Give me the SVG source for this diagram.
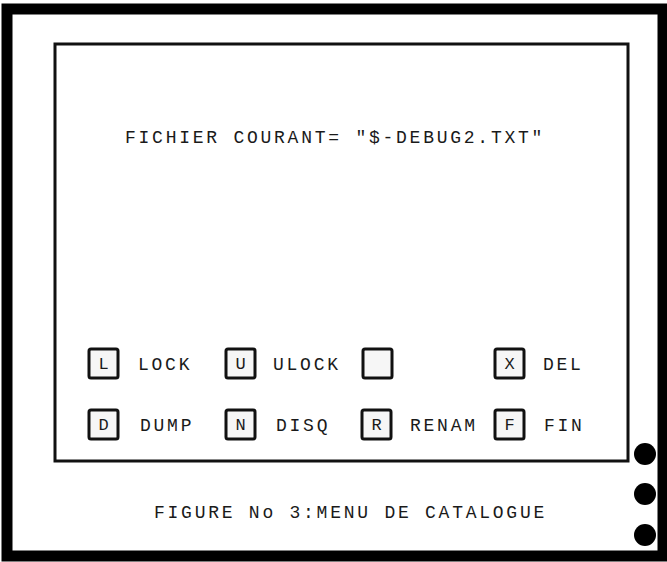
<svg xmlns="http://www.w3.org/2000/svg" width="667" height="562" viewBox="0 0 667 562">
<style>
.t{font-family:"Liberation Mono","DejaVu Sans Mono",monospace;font-size:18px;letter-spacing:2.75px;fill:#1a1a1a}
.k{fill:#f6f6f6;stroke:#111;stroke-width:3}
.kl{font-family:"Liberation Mono","DejaVu Sans Mono",monospace;font-size:17px;fill:#1a1a1a;text-anchor:middle}
</style>
<rect width="667" height="562" fill="#fff"/>
<g id="frame">
<rect x="7" y="9" width="656" height="547" fill="none" stroke="#000" stroke-width="11"/>
</g>
<g id="screen">
<rect x="55" y="44" width="573" height="417" fill="#fff" stroke="#111" stroke-width="3"/>
<text class="t" x="125" y="143">FICHIER COURANT= "$-DEBUG2.TXT"</text>
</g>
<g id="key-L"><rect class="k" x="89" y="349" width="29" height="29" rx="2"/><text class="kl" x="103.5" y="369">L</text><text class="t" x="138" y="370">LOCK</text></g>
<g id="key-U"><rect class="k" x="226" y="349" width="29" height="29" rx="2"/><text class="kl" x="240.5" y="369">U</text><text class="t" x="273" y="370">ULOCK</text></g>
<g id="key-empty"><rect class="k" x="363" y="349" width="29" height="29" rx="2"/></g>
<g id="key-X"><rect class="k" x="495" y="349" width="29" height="29" rx="2"/><text class="kl" x="509.5" y="369">X</text><text class="t" x="543" y="370">DEL</text></g>
<g id="key-D"><rect class="k" x="89" y="410" width="29" height="29" rx="2"/><text class="kl" x="103.5" y="430">D</text><text class="t" x="140" y="431">DUMP</text></g>
<g id="key-N"><rect class="k" x="226" y="410" width="29" height="29" rx="2"/><text class="kl" x="240.5" y="430">N</text><text class="t" x="276" y="431">DISQ</text></g>
<g id="key-R"><rect class="k" x="362" y="410" width="29" height="29" rx="2"/><text class="kl" x="376.5" y="430">R</text><text class="t" x="410" y="431">RENAM</text></g>
<g id="key-F"><rect class="k" x="495" y="410" width="29" height="29" rx="2"/><text class="kl" x="509.5" y="430">F</text><text class="t" x="544" y="431">FIN</text></g>
<g id="holes">
<circle cx="645" cy="454" r="11" fill="#000"/>
<circle cx="645" cy="494" r="11" fill="#000"/>
<circle cx="645" cy="535" r="11" fill="#000"/>
</g>
<g id="caption">
<text class="t" x="154" y="518">FIGURE No 3:MENU DE CATALOGUE</text>
</g>
<g id="connectors"></g>
</svg>
